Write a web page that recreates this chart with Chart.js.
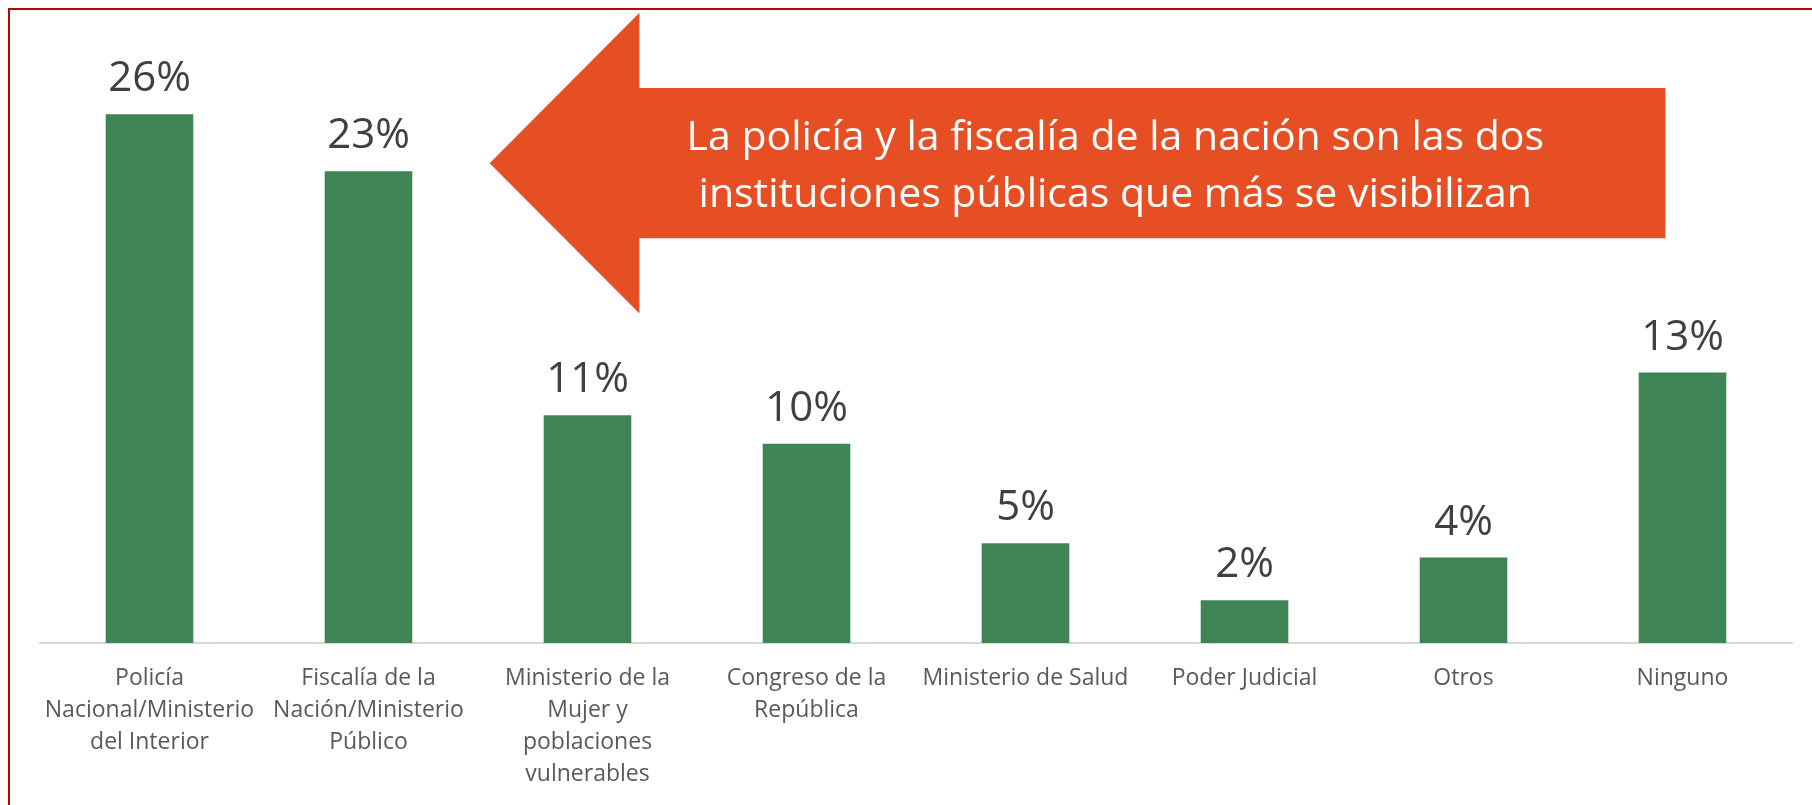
<!DOCTYPE html>
<html>
<head>
<meta charset="utf-8">
<script src="https://cdn.jsdelivr.net/npm/chart.js@4.4.1/dist/chart.umd.min.js"></script>
<style>
  html, body { margin: 0; padding: 0; background: #fff; }
  #wrap { position: relative; width: 1812px; height: 805px; overflow: hidden; }
  #frame {
    position: absolute; left: 8px; top: 8px; right: -10px; bottom: -10px;
    border-left: 2px solid #C00000; border-top: 2px solid #C00000;
    pointer-events: none;
  }
</style>
</head>
<body>
<div id="wrap">
  <canvas id="chart"></canvas>
  <div id="frame"></div>
</div>
<script>
// categories (split in lines the way the axis shows them)
var categories = [
    ['Policía', 'Nacional/Ministerio', 'del Interior'],
    ['Fiscalía de la', 'Nación/Ministerio', 'Público'],
    ['Ministerio de la', 'Mujer y', 'poblaciones', 'vulnerables'],
    ['Congreso de la', 'República'],
    'Ministerio de Salud',
    'Poder Judicial',
    'Otros',
    'Ninguno'
];

// share of mentions, percent
var values = [26.0, 23.2, 11.2, 9.8, 4.9, 2.1, 4.2, 13.3];

var noteLines = [
    'La policía y la fiscalía de la nación son las dos',
    'instituciones públicas que más se visibilizan'
];

var barColor = '#3E8454';
var noteColor = '#E64F24';

// labels "26%" etc on top of each bar
var valueLabels = {
    id: 'valueLabels',
    afterDatasetsDraw: function(chart) {
        var ctx = chart.ctx;
        var meta = chart.getDatasetMeta(0);
        ctx.save();
        ctx.font = '42px "Open Sans"';
        ctx.fillStyle = '#404040';
        ctx.textAlign = 'center';
        ctx.textBaseline = 'alphabetic';
        meta.data.forEach(function(bar, i) {
            ctx.fillText(Math.round(values[i]) + '%', bar.x, bar.y - 23);
        });
        ctx.restore();
    }
};

// big left pointing arrow with the note, placed in data units
var arrowNote = {
    id: 'arrowNote',
    afterDatasetsDraw: function(chart) {
        var ctx = chart.ctx;
        var xs = chart.scales.x, ys = chart.scales.y;
        var tipX = xs.getPixelForValue(1.553);
        var headX = xs.getPixelForValue(2.237);
        var endX = xs.getPixelForValue(6.922);
        var tipY = ys.getPixelForValue(23.6);
        var headTop = ys.getPixelForValue(31.0);
        var headBottom = ys.getPixelForValue(16.2);
        var shaftTop = ys.getPixelForValue(27.3);
        var shaftBottom = ys.getPixelForValue(19.9);

        ctx.save();
        ctx.fillStyle = noteColor;
        ctx.beginPath();
        ctx.moveTo(tipX, tipY);
        ctx.lineTo(headX, headTop);
        ctx.lineTo(headX, shaftTop);
        ctx.lineTo(endX, shaftTop);
        ctx.lineTo(endX, shaftBottom);
        ctx.lineTo(headX, shaftBottom);
        ctx.lineTo(headX, headBottom);
        ctx.closePath();
        ctx.fill();

        ctx.fillStyle = '#ffffff';
        ctx.font = '41px "Open Sans"';
        ctx.textAlign = 'center';
        ctx.textBaseline = 'middle';
        var cx = xs.getPixelForValue(4.41);
        var midY = (shaftTop + shaftBottom) / 2;
        ctx.fillText(noteLines[0], cx, midY - 25);
        ctx.fillText(noteLines[1], cx, midY + 32);
        ctx.restore();
    }
};

var ctx1 = document.getElementById('chart').getContext('2d');

var chart = new Chart(ctx1, {
    type: 'bar',
    data: {
        labels: categories,
        datasets: [{
            data: values,
            backgroundColor: barColor,
            borderWidth: 0,
            categoryPercentage: 1,
            barPercentage: 0.4
        }]
    },
    options: {
        responsive: true,
        maintainAspectRatio: false,
        animation: false,
        layout: {
            padding: { left: 40, right: 20, top: 33, bottom: 0 }
        },
        plugins: {
            legend: { display: false },
            tooltip: { enabled: false }
        },
        scales: {
            x: {
                grid: { display: false, drawTicks: false },
                border: { color: '#D9D9D9', width: 2 },
                ticks: {
                    color: '#595959',
                    font: { family: 'Open Sans', size: 23, lineHeight: 1.4 },
                    padding: 19,
                    autoSkip: false,
                    maxRotation: 0,
                    minRotation: 0
                },
                afterFit: function(scale) {
                    scale.height = 162;
                }
            },
            y: {
                display: false,
                min: 0,
                max: 30
            }
        }
    },
    plugins: [arrowNote, valueLabels]
});
</script>
</body>
</html>
